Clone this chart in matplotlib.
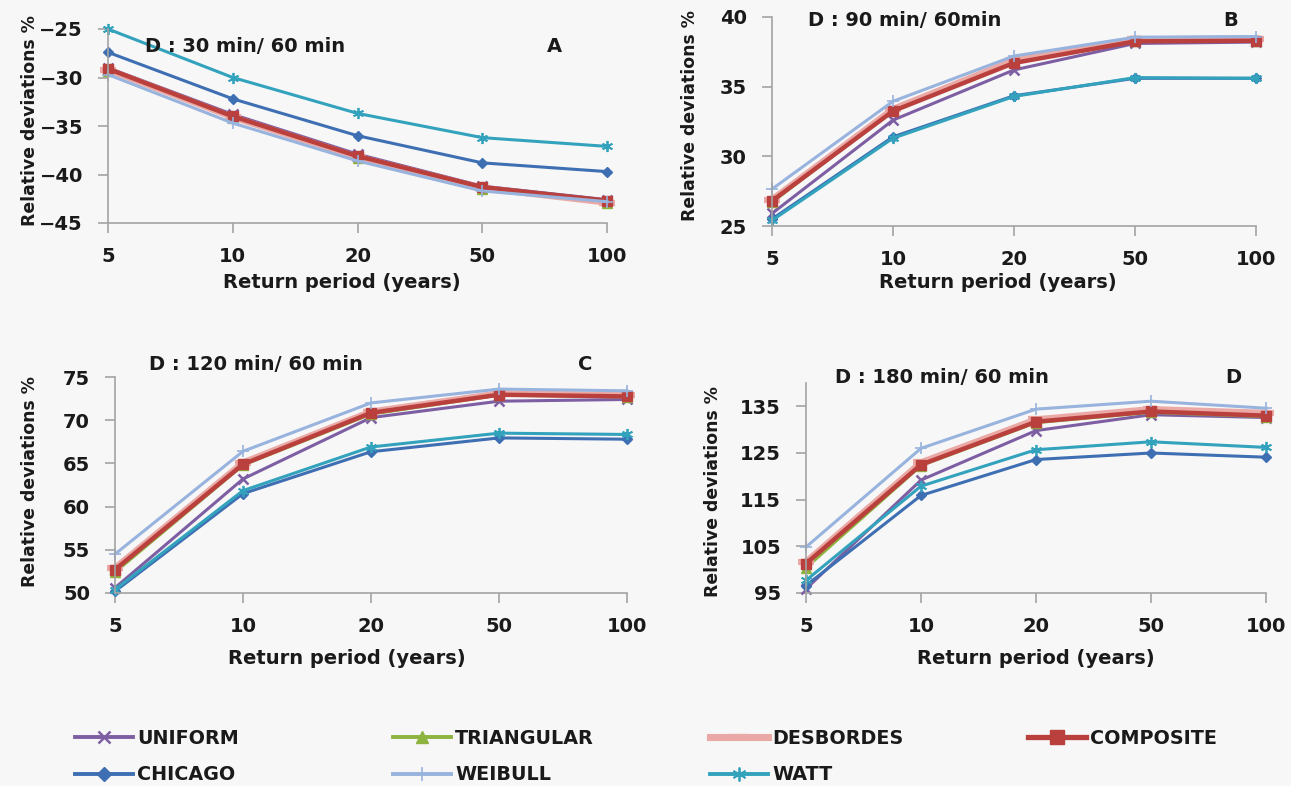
import matplotlib
matplotlib.use("Agg")
import matplotlib.pyplot as plt
from matplotlib.lines import Line2D

plt.rcParams['font.family'] = ['DejaVu Sans']
plt.rcParams['font.weight'] = 'bold'

# ---- data ----
return_periods = ["5", "10", "20", "50", "100"]
panel_titles = ["D : 30 min/ 60 min", "D : 90 min/ 60min", "D : 120 min/ 60 min", "D : 180 min/ 60 min"]
panel_letters = ["A", "B", "C", "D"]
series_names = ["UNIFORM", "TRIANGULAR", "DESBORDES", "COMPOSITE", "CHICAGO", "WEIBULL", "WATT"]

# each list: [panel A, panel B, panel C, panel D]
UNIFORM = [[-29.0, -33.8, -37.9, -41.2, -42.6],
           [25.9, 32.6, 36.2, 38.1, 38.2],
           [50.6, 63.2, 70.3, 72.2, 72.4],
           [95.9, 119.2, 129.8, 133.2, 132.6]]
TRIANGULAR = [[-29.3, -34.2, -38.3, -41.5, -42.9],
              [26.7, 33.3, 36.8, 38.3, 38.3],
              [52.4, 64.8, 70.7, 72.9, 72.7],
              [100.4, 122.3, 131.5, 133.7, 132.8]]
DESBORDES = [[-29.2, -34.1, -38.2, -41.4, -42.9],
             [26.9, 33.4, 36.9, 38.4, 38.45],
             [52.9, 65.1, 71.0, 73.1, 72.9],
             [101.7, 123.0, 132.2, 134.4, 133.6]]
COMPOSITE = [[-29.1, -34.0, -38.1, -41.3, -42.7],
             [26.8, 33.25, 36.7, 38.25, 38.3],
             [52.7, 64.9, 70.85, 72.95, 72.75],
             [101.3, 122.5, 131.7, 133.9, 133.0]]
CHICAGO = [[-27.4, -32.2, -36.0, -38.8, -39.7],
           [25.5, 31.4, 34.35, 35.6, 35.6],
           [50.2, 61.5, 66.35, 67.95, 67.8],
           [96.6, 115.9, 123.6, 125.0, 124.1]]
WEIBULL = [[-29.7, -34.7, -38.6, -41.7, -42.8],
           [27.65, 33.95, 37.2, 38.55, 38.6],
           [54.5, 66.4, 72.0, 73.6, 73.4],
           [104.85, 126.0, 134.4, 136.1, 134.6]]
WATT = [[-25.0, -30.0, -33.7, -36.2, -37.1],
        [25.4, 31.3, 34.3, 35.65, 35.6],
        [50.4, 61.85, 66.9, 68.5, 68.35],
        [97.7, 117.9, 125.7, 127.4, 126.2]]

y_limits = [(-45, -25), (25, 40), (50, 75), (95, 140)]
y_ticks = [[-45, -40, -35, -30, -25], [25, 30, 35, 40], [50, 55, 60, 65, 70, 75],
           [95, 105, 115, 125, 135]]

# ---- styles ----
styles = {
    "UNIFORM":    dict(color="#7d5ea3", lw=2.2, marker="x", ms=7, mew=1.8),
    "TRIANGULAR": dict(color="#8db43e", lw=2.2, marker="^", ms=7, mew=1.0),
    "DESBORDES":  dict(color="#eba9a6", lw=4.5, marker="_", ms=12, mew=4.5),
    "COMPOSITE":  dict(color="#b9403c", lw=3.2, marker="s", ms=7.5, mew=1.0),
    "CHICAGO":    dict(color="#3f6fb3", lw=2.2, marker="D", ms=5.5, mew=1.0),
    "WEIBULL":    dict(color="#98b3dd", lw=2.2, marker="+", ms=8, mew=1.2),
    "WATT":       dict(color="#33a3bd", lw=2.2, marker=(6, 2, 0), ms=8, mew=1.3),
}
series_data = {"UNIFORM": UNIFORM, "TRIANGULAR": TRIANGULAR, "DESBORDES": DESBORDES,
               "COMPOSITE": COMPOSITE, "CHICAGO": CHICAGO, "WEIBULL": WEIBULL, "WATT": WATT}

W, H = 1291, 786
bg = "#f7f7f7"
fig = plt.figure(figsize=(W / 100, H / 100), dpi=100, facecolor=bg)

# axes boxes in pixels: left, right, top, bottom
boxes = [(108, 607, 29, 223), (772, 1256, 17, 226), (115, 627, 377, 593), (806, 1266, 383, 593)]
ylabel_pos = [(30, 121), (690, 116), (30, 482), (713, 492)]
xlabel_pos = [(342, 283), (998, 282), (347, 658), (1036, 658)]
title_pos = [(145, 47), (808, 21), (149, 365), (835, 377)]
letter_pos = [(554, 47), (1231, 21), (585, 365), (1233, 377)]

fs = 14
txt_c = "#1a1a1a"
spine_c = "#a3a3a3"
x = list(range(len(return_periods)))
for i in range(4):
    l, r, t, b = boxes[i]
    ax = fig.add_axes([l / W, 1 - b / H, (r - l) / W, (b - t) / H])
    ax.set_facecolor(bg)
    for name in series_names:
        st = styles[name]
        ax.plot(x, series_data[name][i], color=st["color"], lw=st["lw"], marker=st["marker"],
                ms=st["ms"], mew=st["mew"], clip_on=False, solid_joinstyle="round")
    ax.set_xlim(0, 4)
    ax.set_ylim(*y_limits[i])
    ax.set_yticks(y_ticks[i])
    ax.set_xticks(x)
    ax.set_xticklabels(return_periods)
    for s in ["top", "right"]:
        ax.spines[s].set_visible(False)
    for s in ["left", "bottom"]:
        ax.spines[s].set_color(spine_c)
        ax.spines[s].set_linewidth(1.2)
    ax.tick_params(axis="both", colors=spine_c, labelcolor=txt_c, labelsize=fs,
                   length=7, width=1.2)
    ax.tick_params(axis="x", pad=10)
    ax.tick_params(axis="y", pad=11)
    for lab in ax.get_xticklabels() + ax.get_yticklabels():
        lab.set_fontweight("bold")
    fig.text(ylabel_pos[i][0] / W, 1 - ylabel_pos[i][1] / H, "Relative deviations %",
             rotation=90, ha="center", va="center", fontsize=12.4, fontweight="bold", color=txt_c)
    fig.text(xlabel_pos[i][0] / W, 1 - xlabel_pos[i][1] / H, "Return period (years)",
             ha="center", va="center", fontsize=fs, fontweight="bold", color=txt_c)
    fig.text(title_pos[i][0] / W, 1 - title_pos[i][1] / H, panel_titles[i],
             ha="left", va="center", fontsize=fs, fontweight="bold", color=txt_c)
    fig.text(letter_pos[i][0] / W, 1 - letter_pos[i][1] / H, panel_letters[i],
             ha="center", va="center", fontsize=fs, fontweight="bold", color=txt_c)

# ---- legend (4 columns, placed individually) ----
handles = {}
for name in series_names:
    st = styles[name]
    handles[name] = Line2D([], [], color=st["color"], lw=st["lw"] + 0.6, marker=st["marker"],
                           ms=st["ms"] * 1.25, mew=st["mew"])
legend_cols = [["UNIFORM", "CHICAGO"], ["TRIANGULAR", "WEIBULL"], ["DESBORDES", "WATT"], ["COMPOSITE"]]
legend_x = [75, 393, 710, 1028]
for cx, col in zip(legend_x, legend_cols):
    leg = fig.legend([handles[n] for n in col], col, loc="upper left",
                     bbox_to_anchor=(cx / W, 1 - 729 / H), frameon=False, borderpad=0,
                     borderaxespad=0, handlelength=3.0, handletextpad=0.25, labelspacing=0.9,
                     numpoints=1, prop=dict(size=13.8, weight="bold"))
    for txt in leg.get_texts():
        txt.set_color(txt_c)

fig.savefig("out.png", dpi=100, facecolor=bg)
